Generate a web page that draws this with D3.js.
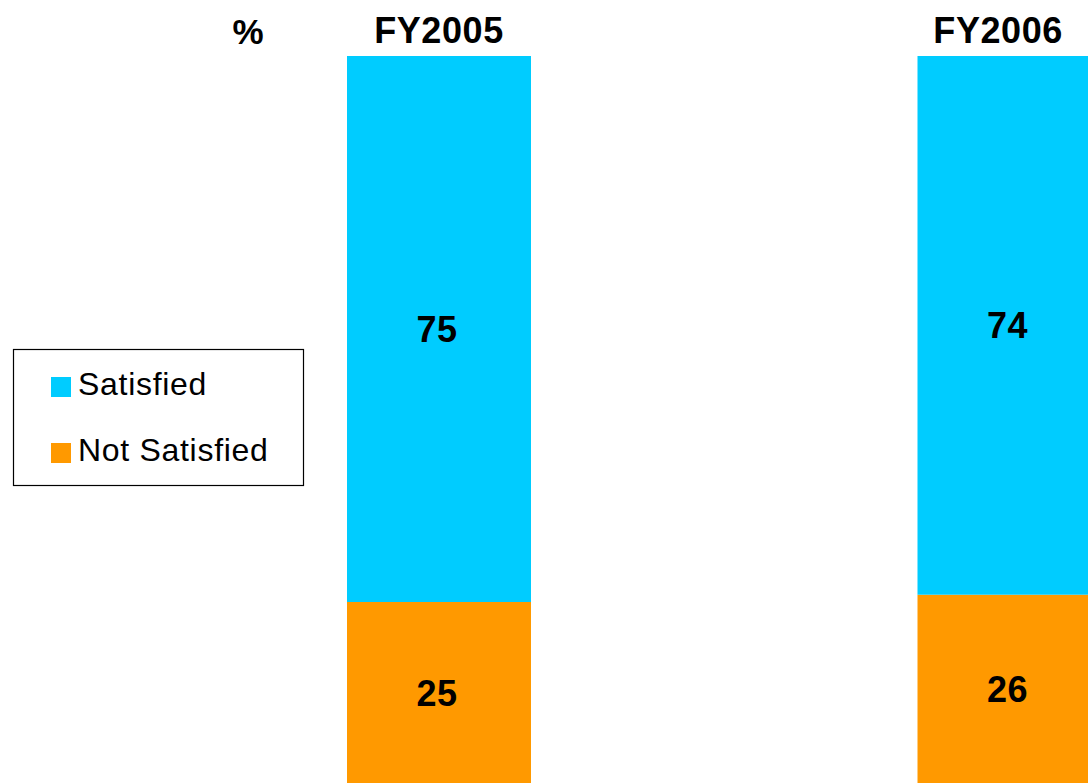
<!DOCTYPE html>
<html>
<head>
<meta charset="utf-8">
<script src="https://cdn.jsdelivr.net/npm/d3@7"></script>
<style>
  html, body { margin: 0; padding: 0; background: #fff; overflow: hidden; }
  svg { display: block; font-family: "Liberation Sans", Arial, sans-serif; }
</style>
</head>
<body>
<svg id="chart" width="1088" height="783"></svg>
<script>
// Survey results, percent of respondents
const years = ["FY2005", "FY2006"];
const satisfied = [75, 74];
const notSatisfied = [25, 26];
const seriesNames = ["Not Satisfied", "Satisfied"];
const seriesColors = ["#FF9900", "#00CCFF"];
const unitLabel = "%";

const W = 1088, H = 783;
const svg = d3.select("#chart");

const rows = years.map((y, i) => ({ year: y, "Satisfied": satisfied[i], "Not Satisfied": notSatisfied[i] }));
const stack = d3.stack().keys(seriesNames)(rows);

const x = d3.scalePoint().domain(years).range([439, 1009.5]);
const barW = 184;
const y = d3.scaleLinear().domain([0, 100]).range([784, 56]);
const color = d3.scaleOrdinal().domain(seriesNames).range(seriesColors);

// stacked bars
const layers = svg.append("g").selectAll("g")
  .data(stack).join("g")
  .attr("fill", d => color(d.key));

layers.selectAll("rect")
  .data(d => d.map(p => ({ p, key: d.key })))
  .join("rect")
  .attr("x", d => x(d.p.data.year) - barW / 2)
  .attr("width", barW)
  .attr("y", d => y(d.p[1]))
  .attr("height", d => y(d.p[0]) - y(d.p[1]));

// value labels centred in each segment
layers.selectAll("text")
  .data(d => d.map(p => ({ p, key: d.key })))
  .join("text")
  .attr("x", d => x(d.p.data.year) - 2)
  .attr("y", d => (y(d.p[0]) + y(d.p[1])) / 2 + 13)
  .attr("text-anchor", "middle")
  .attr("font-size", 36)
  .attr("font-weight", "bold")
  .attr("letter-spacing", 0.5)
  .attr("fill", "#000")
  .text(d => d.p.data[d.key]);

// year headers above bars, kept inside the canvas
const headers = svg.append("g").selectAll("text")
  .data(years).join("text")
  .attr("y", 43)
  .attr("text-anchor", "middle")
  .attr("font-size", 36)
  .attr("font-weight", "bold")
  .attr("letter-spacing", 0.6)
  .attr("fill", "#000")
  .text(d => d);
headers.attr("x", function (d) {
  const half = this.getComputedTextLength() / 2;
  return Math.min(x(d), W - 25 - half);
});

// unit label
svg.append("text")
  .attr("x", 248).attr("y", 44)
  .attr("text-anchor", "middle")
  .attr("font-size", 35)
  .attr("font-weight", "bold")
  .attr("fill", "#000")
  .text(unitLabel);

// legend
const legend = svg.append("g");
legend.append("rect")
  .attr("x", 13.5).attr("y", 349.5)
  .attr("width", 290).attr("height", 136)
  .attr("fill", "#fff").attr("stroke", "#000").attr("stroke-width", 1.2);

const legendItems = ["Satisfied", "Not Satisfied"];
const li = legend.selectAll("g.item")
  .data(legendItems).join("g")
  .attr("class", "item")
  .attr("transform", (d, i) => `translate(51, ${377 + i * 66})`);
li.append("rect")
  .attr("width", 20).attr("height", 20)
  .attr("fill", d => color(d));
li.append("text")
  .attr("x", 27).attr("y", 17.5)
  .attr("font-size", 32)
  .attr("letter-spacing", 0.7)
  .attr("fill", "#000")
  .text(d => d);
</script>
</body>
</html>
